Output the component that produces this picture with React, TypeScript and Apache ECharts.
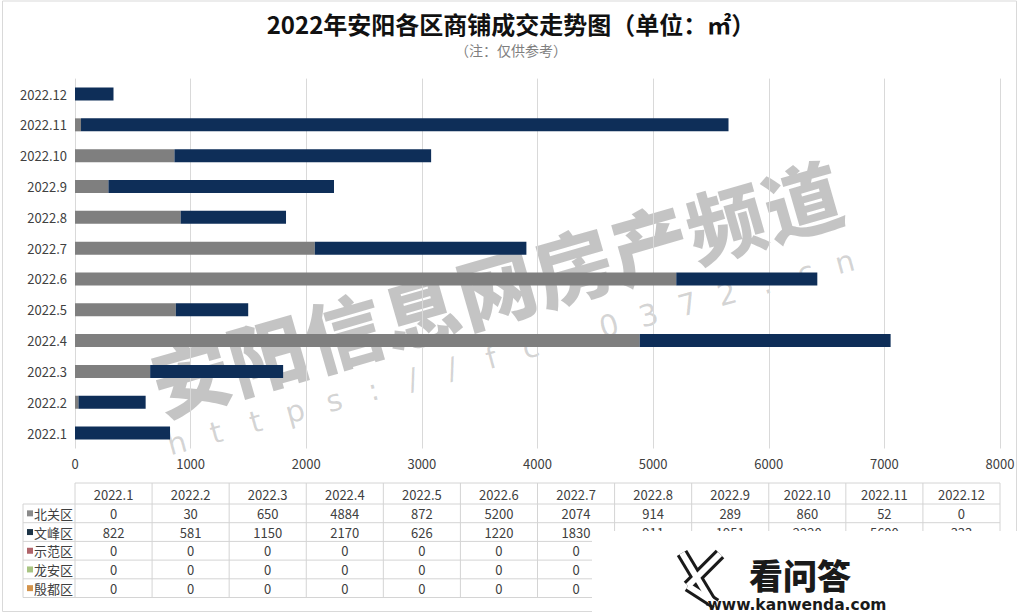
import React, { useEffect, useRef } from "react";
import * as echarts from "echarts";

const categories = ["2022.1", "2022.2", "2022.3", "2022.4", "2022.5", "2022.6", "2022.7", "2022.8", "2022.9", "2022.10", "2022.11", "2022.12"];
const seriesNames = ["北关区", "文峰区", "示范区", "龙安区", "殷都区"];
const beiguan = [0, 30, 650, 4884, 872, 5200, 2074, 914, 289, 860, 52, 0];
const wenfeng = [822, 581, 1150, 2170, 626, 1220, 1830, 911, 1951, 2220, 5600, 333];
const shifan = [0, 0, 0, 0, 0, 0, 0, 0, 0, 0, 0, 0];
const longan = [0, 0, 0, 0, 0, 0, 0, 0, 0, 0, 0, 0];
const yindu = [0, 0, 0, 0, 0, 0, 0, 0, 0, 0, 0, 0];
const seriesColors = ["#7f7f7f", "#0e2e58", "#a9585c", "#a3c27a", "#d3934b"];
const keyColors = ["#8a8a8a", "#1d3447", "#b0646a", "#a8c482", "#d3934b"];
const xMin = 0;
const xMax = 8000;
const xInterval = 1000;

const titleText = "2022年安阳各区商铺成交走势图（单位：㎡）";
const subText = "（注：仅供参考）";
const watermarkText = "安阳信息网房产频道";
const urlText = "https://fc.0372.cn";

const FONT = '"Noto Sans CJK SC", "Noto Sans", sans-serif';

export default function App() {
  const ref = useRef<HTMLDivElement>(null);
  useEffect(() => {
    if (!ref.current) return;
    const chart = echarts.init(ref.current, null, { renderer: "svg" });
    const allData = [beiguan, wenfeng, shifan, longan, yindu];

    const gridLeft = 75;
    const gridRight = 1000;
    const gridTop = 78.6;
    const gridBottom = 448.5;
    const colW = (gridRight - gridLeft) / categories.length;
    const tableTop = 483;
    const headerBottom = 504;
    const rowH = 18.7;
    const tableLeft = 23;
    const lineColor = "#d4d4d4";
    const textColor = "#404040";
    const overlay = { x: 592, y: 531, width: 430, height: 83 };

    const g: any[] = [];
    // outer border
    g.push({ type: "rect", shape: { x: 2.5, y: 1, width: 1014, height: 610.5 }, style: { fill: "none", stroke: "#d9d9d9", lineWidth: 1 }, z: 1 });
    // table lines
    const nRows = seriesNames.length;
    const tableBottom = headerBottom + nRows * rowH;
    g.push({ type: "line", shape: { x1: gridLeft, y1: tableTop, x2: gridRight, y2: tableTop }, style: { stroke: lineColor, lineWidth: 1 }, z: 1 });
    for (let r = 0; r <= nRows; r++) {
      const y = headerBottom + r * rowH;
      g.push({ type: "line", shape: { x1: tableLeft, y1: y, x2: gridRight, y2: y }, style: { stroke: lineColor, lineWidth: 1 }, z: 1 });
    }
    g.push({ type: "line", shape: { x1: tableLeft, y1: headerBottom, x2: tableLeft, y2: tableBottom }, style: { stroke: lineColor, lineWidth: 1 }, z: 1 });
    for (let c = 0; c <= categories.length; c++) {
      const x = gridLeft + c * colW;
      g.push({ type: "line", shape: { x1: x, y1: tableTop, x2: x, y2: tableBottom }, style: { stroke: lineColor, lineWidth: 1 }, z: 1 });
    }
    categories.forEach((cat, c) => {
      g.push({ type: "text", x: gridLeft + (c + 0.5) * colW, y: (tableTop + headerBottom) / 2 + 0.5, style: { text: cat, fill: textColor, fontSize: 13, fontFamily: FONT, textAlign: "center", textVerticalAlign: "middle" }, z: 2 });
    });
    seriesNames.forEach((name, r) => {
      const cy = headerBottom + (r + 0.5) * rowH;
      g.push({ type: "rect", shape: { x: 27, y: cy - 3, width: 6, height: 6 }, style: { fill: keyColors[r] }, z: 2 });
      g.push({ type: "text", x: 34, y: cy, style: { text: name, fill: textColor, fontSize: 13, fontFamily: FONT, textAlign: "left", textVerticalAlign: "middle" }, z: 2 });
      allData[r].forEach((v, c) => {
        const cx = gridLeft + (c + 0.5) * colW;
        // cells fully hidden under the logo overlay are not visible in the reference
        if (cx - 20 > overlay.x && cy - 7 > overlay.y) return;
        g.push({ type: "text", x: cx, y: cy, style: { text: String(v), fill: textColor, fontSize: 13, fontFamily: FONT, textAlign: "center", textVerticalAlign: "middle" }, z: 2 });
      });
    });

    // watermark
    const wmChildren = watermarkText.split("").map((ch, i) => ({
      type: "text", x: i * 79.5, y: 0,
      style: { text: ch, fill: "rgba(60,60,60,0.3)", fontSize: 78, fontWeight: 900, fontFamily: FONT, textAlign: "center", textVerticalAlign: "middle" },
    }));
    g.push({ type: "group", x: 190, y: 373, rotation: 0.28, children: wmChildren, z: 100 });
    const urlChildren = urlText.split("").map((ch, i) => ({
      type: "text", x: i * 40.7, y: 0,
      style: { text: ch, fill: "rgba(60,60,60,0.22)", fontSize: 30, fontFamily: '"DejaVu Sans", sans-serif', textAlign: "center", textVerticalAlign: "middle" },
    }));
    g.push({ type: "group", x: 177, y: 443, rotation: 0.265, children: urlChildren, z: 100 });

    // logo overlay
    g.push({ type: "rect", shape: overlay, style: { fill: "#ffffff" }, z: 200 });
    const kLines = [
      [[682, 553], [712, 603]],
      [[720, 554], [688, 586]],
      [[688, 586], [716, 604]],
    ];
    kLines.forEach((pts) => {
      g.push({ type: "polyline", shape: { points: pts }, style: { stroke: "#1a1a1a", lineWidth: 12, fill: "none", lineCap: "butt" }, z: 201 });
    });
    kLines.forEach((pts) => {
      g.push({ type: "polyline", shape: { points: pts }, style: { stroke: "#ffffff", lineWidth: 6, fill: "none", lineCap: "butt" }, z: 202 });
    });
    g.push({ type: "text", x: 800, y: 574, style: { text: "看问答", fill: "#1a1a1a", fontSize: 34, fontWeight: 900, fontFamily: FONT, textAlign: "center", textVerticalAlign: "middle" }, z: 203 });
    g.push({ type: "text", x: 797, y: 605, style: { text: "www.kanwenda.com", fill: "#1a1a1a", fontSize: 15.5, fontWeight: "bold", fontFamily: '"DejaVu Sans", sans-serif', textAlign: "center", textVerticalAlign: "middle" }, z: 203 });

    chart.setOption({
      animation: false,
      backgroundColor: "#ffffff",
      title: [
        {
          text: titleText,
          left: "center",
          top: 11,
          padding: 0,
          textStyle: { fontSize: 24, fontWeight: "bold", color: "#111", fontFamily: FONT, lineHeight: 24 },
        },
        {
          text: subText,
          left: "center",
          top: 42,
          padding: 0,
          textStyle: { fontSize: 14, fontWeight: "normal", color: "#7f7f7f", fontFamily: FONT, lineHeight: 15 },
        },
      ],
      grid: { left: gridLeft, right: 1022 - gridRight, top: gridTop, bottom: 614 - gridBottom, containLabel: false },
      xAxis: {
        type: "value",
        min: xMin,
        max: xMax,
        interval: xInterval,
        axisLine: { show: false },
        axisTick: { show: false },
        axisLabel: { color: textColor, fontSize: 13, margin: 8, fontFamily: FONT, formatter: (v: number) => String(v) },
        splitLine: { show: true, lineStyle: { color: "#d9d9d9", width: 1 } },
      },
      yAxis: {
        type: "category",
        data: categories,
        axisLine: { show: false },
        axisTick: { show: false },
        axisLabel: { color: textColor, fontSize: 13, margin: 8, fontFamily: FONT },
        splitLine: { show: false },
      },
      series: seriesNames.map((name, i) => ({
        name,
        type: "bar",
        stack: "total",
        barWidth: 13,
        data: allData[i],
        itemStyle: { color: seriesColors[i] },
      })),
      graphic: { elements: g },
    });
    return () => chart.dispose();
  }, []);
  return <div ref={ref} style={{ position: "absolute", left: 0, top: 0, width: 1022, height: 614 }} />;
}
